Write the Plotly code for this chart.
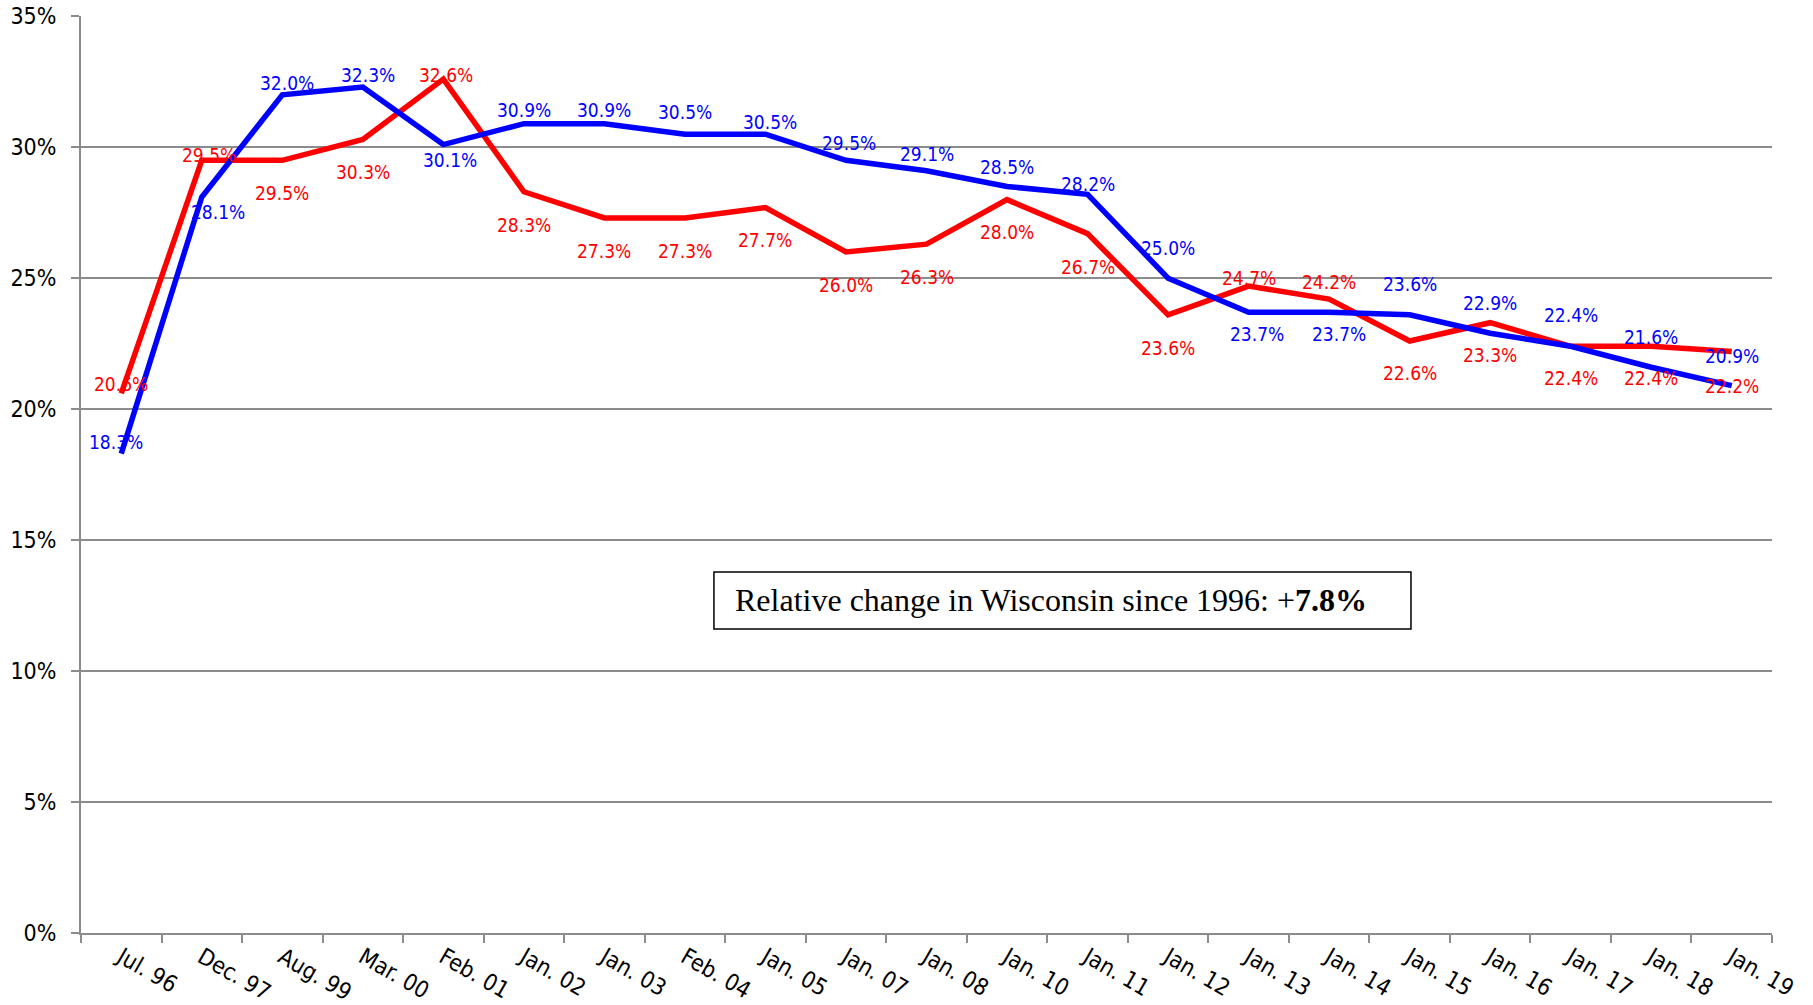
import plotly.graph_objects as go

categories = ["Jul. 96", "Dec. 97", "Aug. 99", "Mar. 00", "Feb. 01", "Jan. 02", "Jan. 03",
              "Feb. 04", "Jan. 05", "Jan. 07", "Jan. 08", "Jan. 10", "Jan. 11", "Jan. 12",
              "Jan. 13", "Jan. 14", "Jan. 15", "Jan. 16", "Jan. 17", "Jan. 18", "Jan. 19"]
red_values = [20.6, 29.5, 29.5, 30.3, 32.6, 28.3, 27.3, 27.3, 27.7, 26.0, 26.3,
              28.0, 26.7, 23.6, 24.7, 24.2, 22.6, 23.3, 22.4, 22.4, 22.2]
blue_values = [18.3, 28.1, 32.0, 32.3, 30.1, 30.9, 30.9, 30.5, 30.5, 29.5, 29.1,
               28.5, 28.2, 25.0, 23.7, 23.7, 23.6, 22.9, 22.4, 21.6, 20.9]
y_tick_values = [0, 5, 10, 15, 20, 25, 30, 35]
y_tick_labels = ["0%", "5%", "10%", "15%", "20%", "25%", "30%", "35%"]
note_text = "Relative change in Wisconsin since 1996: +<b>7.8%</b>"

# label offsets (pixels) relative to each point
red_label_dx = [0, 7, 0, 0, 3, 0, 0, 0, 0, 0, 0, 0, 0, 0, 0, 0, 0, 0, 0, 0, 0]
red_label_dy = [9, 5, -33, -33, 4, -33, -33, -33, -33, -33, -33, -32, -33, -33, 8, 17, -32, -32, -32, -32, -34]
blue_label_dx = [-5, 16, 5, 5, 7, 0, 0, 0, 5, 3, 0, 0, 0, 0, 8, 10, 0, 0, 0, 0, 0]
blue_label_dy = [12, -15, 12, 12, -15, 14, 14, 22, 12, 17, 17, 20, 10, 30, -22, -22, 31, 30, 31, 30, 30]

RED = "#FF0000"
BLUE = "#0000FF"
GRID = "#8C8C8C"
SANS = "DejaVu Sans Condensed, Liberation Sans Narrow, DejaVu Sans, sans-serif"
SERIF = "Liberation Serif, Times New Roman, serif"

fig = go.Figure()
fig.add_trace(go.Scatter(x=categories, y=red_values, mode="lines",
                         line=dict(color=RED, width=5.5), hoverinfo="skip"))
fig.add_trace(go.Scatter(x=categories, y=blue_values, mode="lines",
                         line=dict(color=BLUE, width=5.5), hoverinfo="skip"))

annotations = []
for cat, v, dx, dy in zip(categories, red_values, red_label_dx, red_label_dy):
    annotations.append(dict(x=cat, y=v, xref="x", yref="y", text=f"{v:.1f}%",
                            showarrow=False, xshift=dx, yshift=dy,
                            font=dict(family=SANS, size=19, color=RED)))
for cat, v, dx, dy in zip(categories, blue_values, blue_label_dx, blue_label_dy):
    annotations.append(dict(x=cat, y=v, xref="x", yref="y", text=f"{v:.1f}%",
                            showarrow=False, xshift=dx, yshift=dy,
                            font=dict(family=SANS, size=19, color=BLUE)))

annotations.append(dict(x=0.3856, y=0.3626, xref="paper", yref="paper",
                        xanchor="left", yanchor="middle", text=note_text,
                        showarrow=False, font=dict(family=SERIF, size=32, color="black")))

fig.add_shape(type="rect", xref="paper", yref="paper", x0=0.3743, x1=0.7865,
              y0=0.3315, y1=0.3937, line=dict(color="black", width=1.5),
              fillcolor="white", layer="above")

fig.update_layout(
    width=1813, height=1005,
    margin=dict(l=81, r=41, t=16, b=72),
    plot_bgcolor="white", paper_bgcolor="white",
    showlegend=False,
    annotations=annotations,
    xaxis=dict(type="category", range=[-0.5, len(categories) - 0.5],
               showline=True, linecolor=GRID, linewidth=2,
               ticks="outside", tickson="boundaries", ticklen=8, tickwidth=2, tickcolor=GRID,
               tickangle=30, tickfont=dict(family=SANS, size=23, color="black"),
               showgrid=False, zeroline=False, automargin=False),
    yaxis=dict(range=[0, 35.01], tickmode="array", tickvals=y_tick_values, ticktext=y_tick_labels,
               showline=True, linecolor=GRID, linewidth=2,
               ticks="outside", ticklen=8, tickwidth=2, tickcolor=GRID,
               showgrid=True, gridcolor=GRID, gridwidth=2, zeroline=False,
               tickfont=dict(family=SANS, size=23, color="black"),
               ticklabelstandoff=10, automargin=False),
)

fig.write_html("out.html", config={"displayModeBar": False},
               post_script="document.body.style.margin='0';document.body.style.overflow='hidden';")
